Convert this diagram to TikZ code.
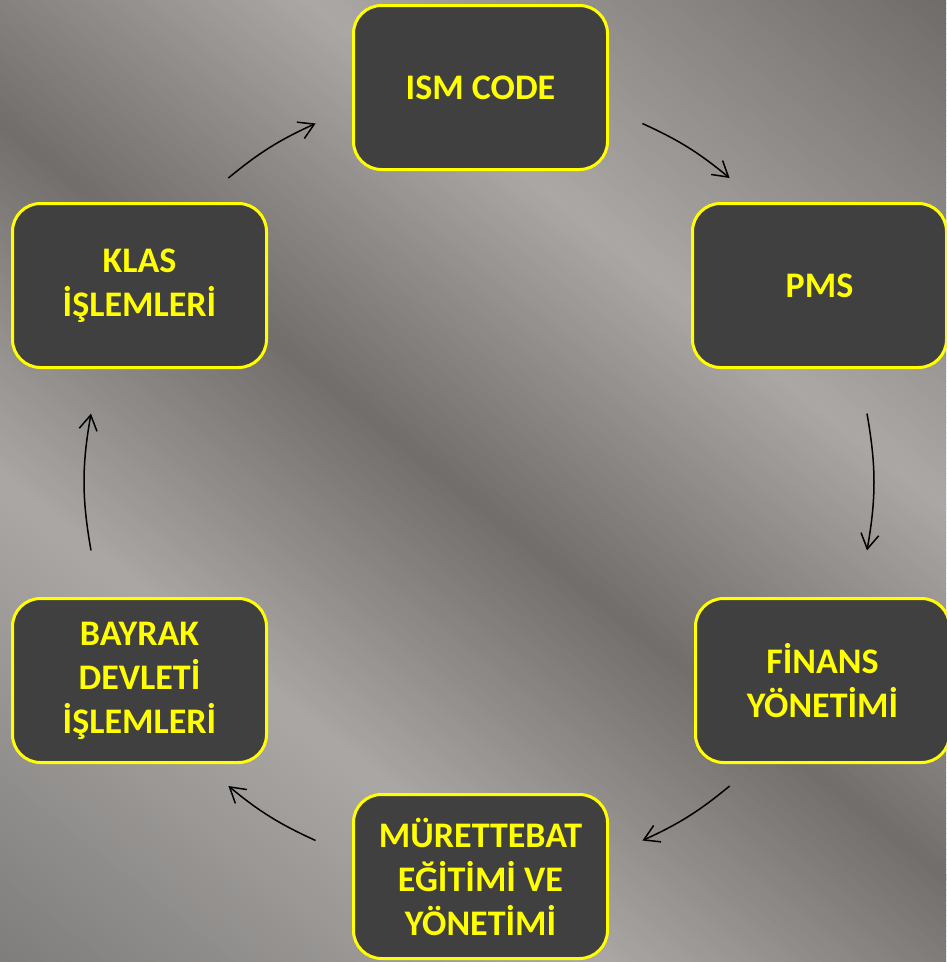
\documentclass[tikz,border=0pt]{standalone}
\usepackage{fontspec}
\setmainfont{Carlito}
\usetikzlibrary{arrows.meta}
\definecolor{bgA}{HTML}{7F7D7B}
\definecolor{bgB}{HTML}{AAA7A5}
\definecolor{bgC}{HTML}{716E6C}
\definecolor{bgE}{HTML}{6D6A68}
\definecolor{boxfill}{HTML}{404040}
\definecolor{boxline}{HTML}{FFFF00}
\definecolor{boxtext}{HTML}{FFFF00}
\begin{document}
\begin{tikzpicture}[x=1pt,y=1pt,
  box/.style={draw=boxline, line width=3pt, fill=boxfill, rounded corners=28pt,
    minimum width=254pt, minimum height=164pt, text=boxtext, align=center,
    font=\bfseries\fontsize{36}{44}\selectfont, inner sep=0pt},
  flow/.style={-{Straight Barb[length=15pt,width=18pt]}, line width=1.5pt, black}]
\useasboundingbox (0,0) rectangle (946,-962);
\begin{scope}
  \clip (0,0) rectangle (946,-962);
  \begin{scope}[rotate=51.5]
    \foreach \sa/\sb/\ca/\cb in {-760/-380/bgA/bgB, -380/-100/bgB/bgC, -100/190/bgC/bgB, 190/600/bgB/bgE}{
      \pgfmathsetmacro{\nst}{int((\sb-\sa)/4)}
      \foreach \k in {0,...,\nst}{
        \pgfmathsetmacro{\ss}{\sa+4*\k}
        \pgfmathsetmacro{\ff}{int(100*\k/\nst)}
        \fill[fill=\cb!\ff!\ca] (\ss,-1500) rectangle ++(4.8,3000);
      }
    }
  \end{scope}
\end{scope}

\node[box] (ism) at (480.5,-87.5) {ISM CODE};
\node[box] (pms) at (819.5,-285.5) {PMS};
\node[box] (fin) at (822.5,-680.5) {FİNANS\\YÖNETİMİ};
\node[box] (mur) at (480.5,-876.5) {MÜRETTEBAT\\EĞİTİMİ VE\\YÖNETİMİ};
\node[box] (bay) at (139.5,-680.5) {BAYRAK\\DEVLETİ\\İŞLEMLERİ};
\node[box] (kla) at (139.5,-285.5) {KLAS\\İŞLEMLERİ};

\coordinate (klaout) at (228.4,-178.0);
\coordinate (ismin)  at (315.6,-123.5);
\coordinate (ismout) at (642.4,-123.5);
\coordinate (pmsin)  at (729.6,-178.0);
\coordinate (pmsout) at (867.0,-413.6);
\coordinate (finin)  at (867.0,-550.4);
\coordinate (finout) at (729.6,-786.0);
\coordinate (murin)  at (642.4,-840.5);
\coordinate (murout) at (315.6,-840.5);
\coordinate (bayin)  at (228.4,-786.0);
\coordinate (bayout) at (91.0,-550.4);
\coordinate (klain)  at (91.0,-413.6);

\draw[flow] (klaout) to[bend left=7.5] (ismin);
\draw[flow] (ismout) to[bend left=7.5] (pmsin);
\draw[flow] (pmsout) to[bend left=10] (finin);
\draw[flow] (finout) to[bend left=7.5] (murin);
\draw[flow] (murout) to[bend left=7.5] (bayin);
\draw[flow] (bayout) to[bend left=10] (klain);
\end{tikzpicture}
\end{document}
